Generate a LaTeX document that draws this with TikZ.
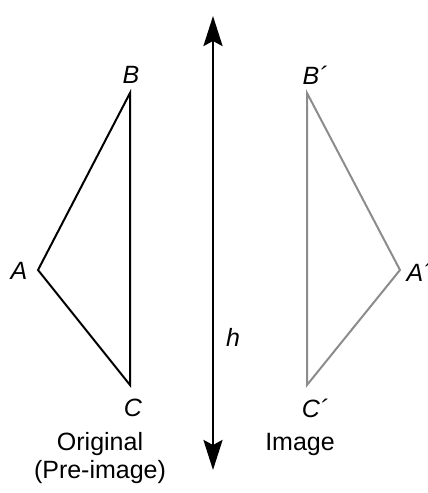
\documentclass[tikz,border=0pt]{standalone}
\usepackage{fontspec}
\setmainfont{Liberation Sans}
\usetikzlibrary{arrows.meta}
\begin{document}
\begin{tikzpicture}[x=1pt,y=-1pt,
  lbl/.style={font=\fontsize{25}{29}\selectfont\itshape, inner sep=0pt},
  captxt/.style={font=\fontsize{25}{28}\selectfont, inner sep=0pt, align=center},
  orig/.style={line width=2pt, line join=miter, black},
  img/.style={line width=2pt, line join=miter, color={rgb,255:red,140;green,140;blue,140}},
  axis/.style={line width=2.8pt, {Stealth[length=30pt,width=19pt,inset=5pt]}-{Stealth[length=30pt,width=19pt,inset=5pt]}}]
\useasboundingbox (0,0) rectangle (428,493);
\coordinate (B) at (130,93);
\coordinate (A) at (38,270);
\coordinate (C) at (130,385);
\coordinate (B2) at (307,93);
\coordinate (A2) at (400,270);
\coordinate (C2) at (307,385);
\coordinate (top) at (213,16);
\coordinate (bot) at (213,470);
\draw[orig] (B) -- (A) -- (C) -- cycle;
\draw[img] (B2) -- (A2) -- (C2) -- cycle;
\draw[axis] (top) -- (bot);
\node[lbl] (lB) at (131,75) {B};
\node[lbl] (lA) at (19,271) {A};
\node[lbl] (lC) at (133,408) {C};
\node[lbl] (lB2) at (315,75) {B´};
\node[lbl] (lA2) at (419,272) {A´};
\node[lbl] (lC2) at (315,408) {C´};
\node[lbl] (lh) at (233,337) {h};
\node[captxt] (lo) at (100,458) {Original\\(Pre-image)};
\node[captxt] (li) at (300,444) {Image};
\end{tikzpicture}
\end{document}
